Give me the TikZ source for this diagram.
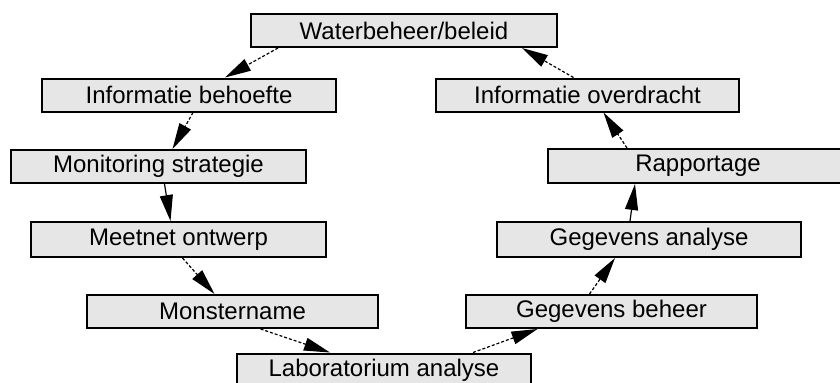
\documentclass[tikz,border=0pt]{standalone}
\usepackage{fontspec}
\setmainfont{Liberation Sans}
\usetikzlibrary{arrows.meta}
\definecolor{boxgray}{HTML}{E6E6E6}

\begin{document}
\begin{tikzpicture}[
    x=0.5pt, y=-0.5pt,
    stage/.style={draw, line width=1pt, fill=boxgray, inner sep=0pt,
        minimum height=16.5pt, font=\fontsize{12}{14}\selectfont},
    flow/.style={line width=0.6pt, dash pattern=on 1.5pt off 1pt,
        -{Triangle[length=13pt, width=6.5pt]}},
    flowsolid/.style={flow, solid}
]
    \useasboundingbox (0,0) rectangle (840,382);
    % define stages
    % left side, going down
    \node[stage, minimum width=153pt] (water) at (404,30.5) {Waterbeheer/beleid};
    \node[stage, minimum width=147pt] (infob) at (189,95) {Informatie behoefte};
    \node[stage, minimum width=147.5pt] (monit) at (158.5,166.5) {Monitoring strategie};
    \node[stage, minimum width=147.5pt, minimum height=17.5pt] (meet) at (178.5,239.5) {Meetnet ontwerp};
    \node[stage, minimum width=145.5pt] (monster) at (232.5,311.5) {Monstername};
    % bottom
    \node[stage, minimum width=147pt] (lab) at (384,370) {Laboratorium analyse};
    % right side, going up
    \node[stage, minimum width=145.5pt] (gbeheer) at (611.5,311.5) {Gegevens beheer};
    \node[stage, minimum width=152pt, minimum height=17.5pt] (ganal) at (649,239.5) {Gegevens analyse};
    \node[stage, minimum width=150pt, minimum height=17pt] (rapp) at (698,166) {Rapportage};
    \node[stage, minimum width=151.5pt] (infoov) at (587.5,95) {Informatie overdracht};
    % draw cycle
    \draw[flow] ([xshift=-63pt]water.south) -- ([xshift=18pt]infob.north);
    \draw[flow] ([xshift=2pt]infob.south) -- ([xshift=7pt]monit.north);
    \draw[flowsolid] ([xshift=3pt]monit.south) -- ([xshift=-4pt]meet.north);
    \draw[flow] ([xshift=2pt]meet.south) -- ([xshift=-9pt]monster.north);
    \draw[flow] ([xshift=14pt]monster.south) -- ([xshift=-27pt]lab.north);
    \draw[flow] ([xshift=44.5pt]lab.north) -- ([xshift=-37pt]gbeheer.south);
    \draw[flow] ([xshift=-11pt]gbeheer.north) -- ([xshift=-17pt]ganal.south);
    \draw[flowsolid] ([xshift=-9.5pt]ganal.north) -- ([xshift=-31.5pt]rapp.south);
    \draw[flow] ([xshift=-35.5pt]rapp.north) -- ([xshift=8pt]infoov.south);
    \draw[flow] ([xshift=-7pt]infoov.north) -- ([xshift=59pt]water.south);
\end{tikzpicture}
\end{document}
